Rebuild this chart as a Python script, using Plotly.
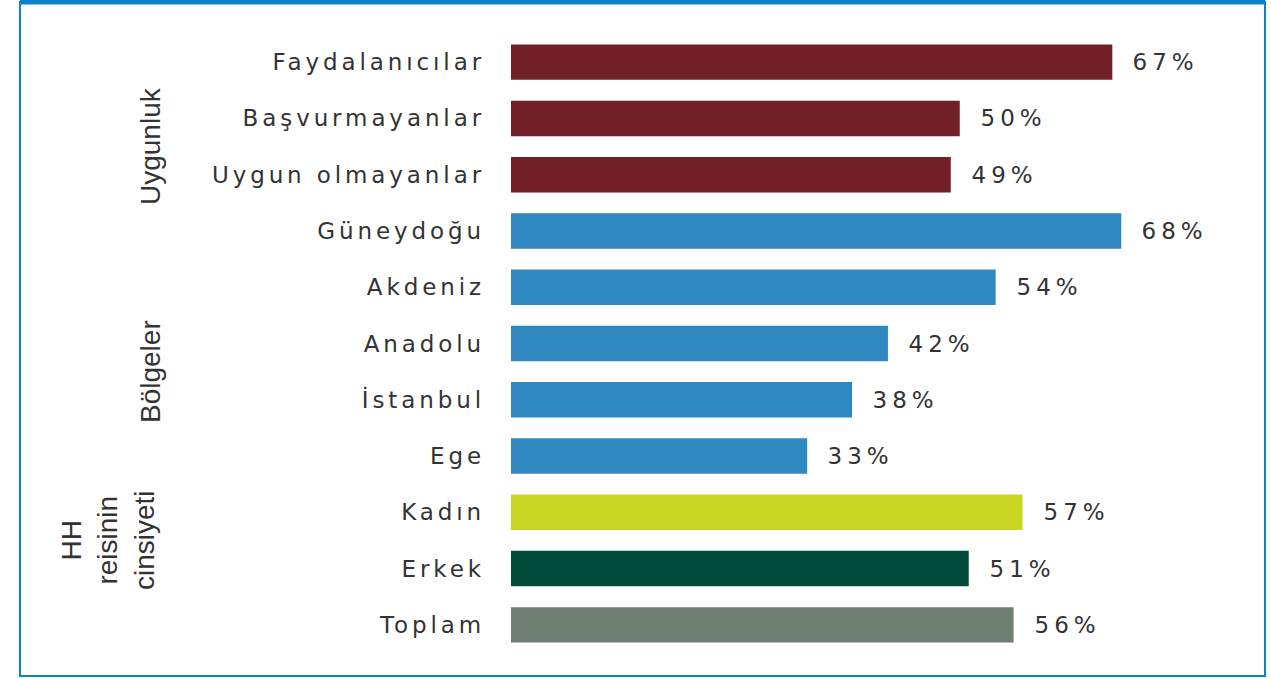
import plotly.graph_objects as go

# 資料
categories = ["Faydalanıcılar", "Başvurmayanlar", "Uygun olmayanlar",
              "Güneydoğu", "Akdeniz", "Anadolu", "İstanbul", "Ege",
              "Kadın", "Erkek", "Toplam"]
values = [67, 50, 49, 68, 54, 42, 38, 33, 57, 51, 56]
groups = ["uygunluk", "uygunluk", "uygunluk",
          "bolge", "bolge", "bolge", "bolge", "bolge",
          "kadin", "erkek", "toplam"]
group_titles = ["Uygunluk", "Bölgeler", "HH<br>reisinin<br>cinsiyeti"]

# 顏色
color_map = {
    "uygunluk": "#722027",
    "bolge": "#3088c1",
    "kadin": "#cad624",
    "erkek": "#004b39",
    "toplam": "#6f7e72",
}
text_color = "#333333"
frame_color = "#0b84c6"

fig = go.Figure()
fig.add_trace(go.Bar(
    x=values,
    y=categories,
    orientation="h",
    width=0.63,
    marker=dict(color=[color_map[g] for g in groups], line=dict(width=0)),
    hoverinfo="x+y",
))

# 百分比標籤
annotations = []
for cat, val in zip(categories, values):
    annotations.append(dict(
        x=val, y=cat, xref="x", yref="y",
        text=f"{val}%", showarrow=False,
        xanchor="left", yanchor="middle", xshift=26,
        font=dict(family="DejaVu Sans", size=23, color=text_color),
    ))

# 分組標題 (旋轉)
# 位置以 paper 座標表示：繪圖區 x 511..1229 px, y 34..653 px
def px_x(p):
    return (p - 511) / 718

def px_y(p):
    return (653 - p) / 619

group_pos = [(150, 146), (150, 372), (108, 540)]
for title, (gx, gy) in zip(group_titles, group_pos):
    annotations.append(dict(
        x=px_x(gx), y=px_y(gy), xref="paper", yref="paper",
        text=title, showarrow=False, textangle=-90,
        xanchor="center", yanchor="middle",
        font=dict(family="Liberation Sans", size=28, color=text_color),
    ))

# 外框
shapes = [
    dict(type="rect", xref="paper", yref="paper",
         x0=px_x(20), x1=px_x(1265), y0=px_y(676), y1=px_y(2),
         line=dict(color=frame_color, width=2)),
    dict(type="line", xref="paper", yref="paper",
         x0=px_x(20), x1=px_x(1265), y0=px_y(2), y1=px_y(2),
         line=dict(color=frame_color, width=5)),
]

fig.update_layout(
    width=1271, height=679,
    margin=dict(l=511, r=42, t=34, b=26),
    paper_bgcolor="white",
    plot_bgcolor="white",
    showlegend=False,
    annotations=annotations,
    shapes=shapes,
    xaxis=dict(range=[0, 80], visible=False, fixedrange=True),
    yaxis=dict(
        categoryorder="array", categoryarray=categories,
        autorange="reversed",
        showgrid=False, zeroline=False, showline=False, ticks="",
        ticklabelstandoff=25,
        tickfont=dict(family="DejaVu Sans", size=23, color=text_color),
        fixedrange=True,
    ),
)

# 頁面邊距歸零，並加上字距 (原圖文字較寬)
post_script = """
document.body.style.margin = '0';
var st = document.createElement('style');
st.innerHTML = 'body{margin:0;overflow:hidden}.ytick text{letter-spacing:3.9px}';
document.head.appendChild(st);
document.querySelectorAll('.annotation-text').forEach(function(t){
  if (t.textContent.indexOf('%') >= 0) { t.style.letterSpacing = '5px'; }
});
"""

fig.write_html("out.html", post_script=post_script, config={"displayModeBar": False})
